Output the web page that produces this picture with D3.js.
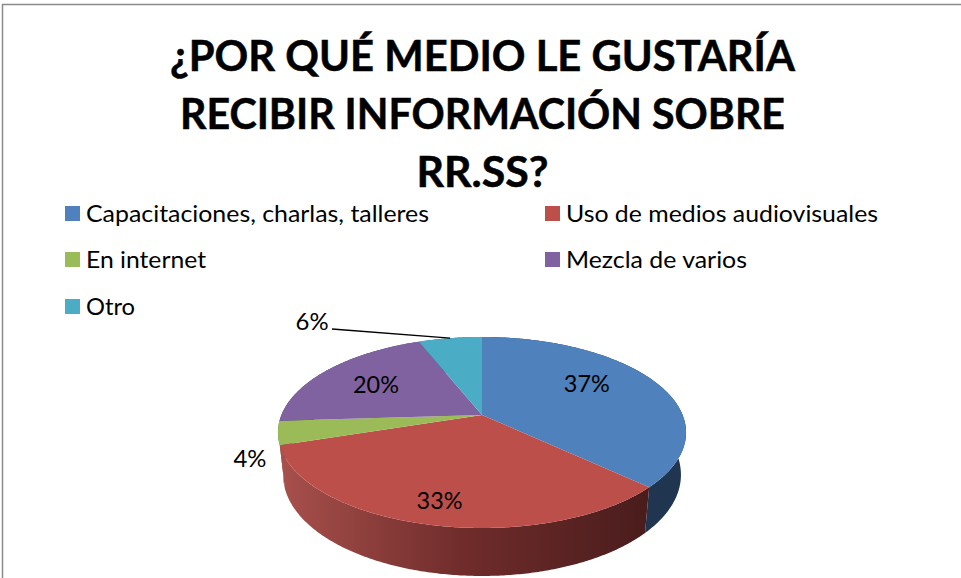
<!DOCTYPE html>
<html lang="es">
<head>
<meta charset="utf-8">
<style>
html,body{margin:0;padding:0;background:#fff;overflow:hidden}
svg{display:block}
text{font-family:Lato,"Open Sans",sans-serif;fill:#000}
</style>
<script src="https://cdn.jsdelivr.net/npm/d3@7"></script>
</head>
<body>
<svg id="chart" width="961" height="578"></svg>
<script>
const titleLines = ["¿POR QUÉ MEDIO LE GUSTARÍA", "RECIBIR INFORMACIÓN SOBRE", "RR.SS?"];
const categories = ["Capacitaciones, charlas, talleres", "Uso de medios audiovisuales", "En internet", "Mezcla de varios", "Otro"];
const values = [37, 33, 4, 20, 6];
const colors = ["#4f81bd", "#bd4f4b", "#9bbb59", "#8062a0", "#4bacc6"];

const W = 961, H = 578;
const svg = d3.select("#chart");

// Perspective tilted disc
const cx = 482, cy = 415, R = 200.6, Q = 92.3, P = 0.183;
function project(a, r = 1) {
  const X = Math.sin(a) * r, Z = -Math.cos(a) * r, s = 1 / (1 - P * Z);
  return [cx + R * X * s, cy + Q * Z * s];
}
function projectBase(a) {
  const [x, y] = project(a), Z = -Math.cos(a);
  return [cx + (x - cx) * 0.975, y + 41 + 7 * Z];
}
function arcPts(a0, a1, fn) {
  const n = Math.max(2, Math.ceil((a1 - a0) / 0.01));
  return d3.range(n + 1).map(i => fn(a0 + (a1 - a0) * i / n));
}

const pie = d3.pie().sort(null).value(d => d);
const arcs = pie(values);
const line = d3.line();

// Frame
svg.append("path").attr("d", line([[2.5, H], [2.5, 4.5], [W, 4.5]]))
  .attr("fill", "none").attr("stroke", "#8a8a8a").attr("stroke-width", 1.5);

// Title
svg.append("g").selectAll("text").data(titleLines).join("text")
  .attr("x", 482.5).attr("y", (d, i) => 71 + i * 58)
  .attr("text-anchor", "middle").attr("font-weight", 700).attr("font-size", 41.5)
  .attr("stroke", "#000").attr("stroke-width", 0.5)
  .attr("textLength", (d, i) => [625, 605, 132][i]).attr("lengthAdjust", "spacingAndGlyphs")
  .text(d => d);

// Legend
const legendCol = i => i % 2 === 0 ? 65 : 545;
const legendY = i => [222, 268, 315][Math.floor(i / 2)];
const legendW = [343, 312, 120, 181, 49];
const legend = svg.append("g").selectAll("g").data(categories).join("g");
legend.append("rect").attr("x", (d, i) => legendCol(i)).attr("y", (d, i) => legendY(i) - 16)
  .attr("width", 15).attr("height", 15).attr("fill", (d, i) => d3.color(colors[i]));
legend.append("text").attr("x", (d, i) => legendCol(i) + 21).attr("y", (d, i) => legendY(i))
  .attr("font-size", 23.5)
  .attr("textLength", (d, i) => legendW[i]).attr("lengthAdjust", "spacingAndGlyphs")
  .text(d => d);

// Side wall shading
const defs = svg.append("defs");
const grad = defs.append("linearGradient").attr("id", "wallRed")
  .attr("gradientUnits", "userSpaceOnUse").attr("x1", 280).attr("x2", 648).attr("y1", 0).attr("y2", 0);
[[0, "#a8504c"], [0.5, "#6f2c2b"], [1, "#4a1c1c"]].forEach(([o, c]) =>
  grad.append("stop").attr("offset", o).attr("stop-color", c));
const wallFill = ["#1f3550", "url(#wallRed)", "#5e7335", "#4d3a63", "#2c6a7a"];

// Walls, back slices first
[4, 3, 2, 0, 1].forEach(i => {
  const d = arcs[i];
  const top = arcPts(d.startAngle, d.endAngle, project);
  const base = arcPts(d.startAngle, d.endAngle, projectBase).reverse();
  svg.append("path").attr("d", line(top.concat(base)) + "Z").attr("fill", wallFill[i]);
});

// Top faces
svg.append("g").selectAll("path").data(arcs).join("path")
  .attr("d", d => line([[cx, cy], ...arcPts(d.startAngle, d.endAngle, project)]) + "Z")
  .attr("fill", (d, i) => colors[i]);

// Leader for the small back slice
const mid = d => (d.startAngle + d.endAngle) / 2;
svg.append("path").attr("d", line([[332, 329], project(mid(arcs[4]))]))
  .attr("fill", "none").attr("stroke", "#000").attr("stroke-width", 1.4);

// Data labels
const labelPos = [
  d => { const p = project(mid(d), 0.6); return [p[0] - 1, p[1] - 10]; },
  d => { const p = project(mid(d), 0.6); return [p[0] - 13, p[1] + 25]; },
  d => { const p = project(mid(d), 1.0); return [p[0] - 28, p[1] + 26]; },
  d => { const p = project(mid(d), 0.6); return [p[0] - 10, p[1] - 2]; },
  d => { const p = project(mid(d), 1.0); return [p[0] - 138, p[1] - 16]; }
];
const labelW = [46, 46, 33, 46, 33];
svg.append("g").selectAll("text").data(arcs).join("text")
  .attr("x", (d, i) => labelPos[i](d)[0]).attr("y", (d, i) => labelPos[i](d)[1] + 8)
  .attr("text-anchor", "middle").attr("font-size", 23.5)
  .attr("textLength", (d, i) => labelW[i]).attr("lengthAdjust", "spacingAndGlyphs")
  .text(d => d.data + "%");
</script>
</body>
</html>
